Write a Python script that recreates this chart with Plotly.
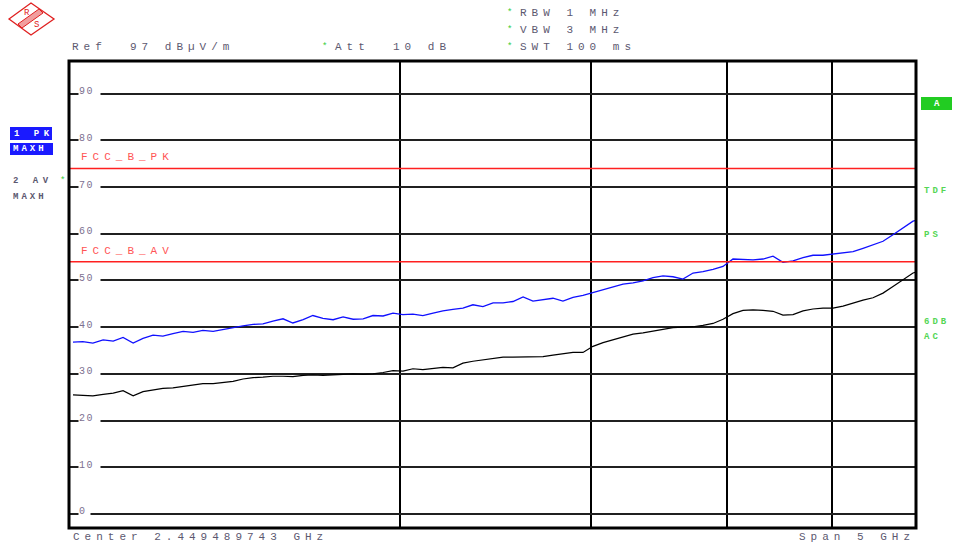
import plotly.graph_objects as go
import json
import math

# ---------------- data ----------------
freq_mhz = [1000, 1021, 1043, 1066, 1089, 1112, 1136, 1160, 1185, 1210,
            1236, 1263, 1290, 1317, 1346, 1374, 1404, 1434, 1465, 1496,
            1528, 1561, 1594, 1629, 1663, 1699, 1736, 1773, 1811, 1850,
            1889, 1930, 1971, 2013, 2056, 2100, 2146, 2191, 2238, 2286,
            2335, 2385, 2437, 2489, 2542, 2597, 2652, 2709, 2767, 2826,
            2887, 2949, 3012, 3077, 3143, 3210, 3279, 3349, 3421, 3494,
            3569, 3645, 3724, 3803, 3885, 3968, 4053, 4140, 4229, 4319,
            4412, 4506, 4603, 4702, 4802, 4905, 5010, 5118, 5228, 5340,
            5454, 5571, 5690, 5812, 5937, 6000]

pk_maxh = [36.8, 36.9, 36.6, 37.3, 37.0, 37.8, 36.6, 37.6, 38.3, 38.1,
           38.6, 39.1, 38.9, 39.3, 39.1, 39.5, 40.0, 40.3, 40.6, 40.7,
           41.3, 41.8, 40.9, 41.6, 42.5, 41.9, 41.6, 42.2, 41.7, 41.8,
           42.5, 42.4, 43.0, 42.7, 42.8, 42.5, 43.0, 43.5, 43.8, 44.1,
           44.8, 44.4, 45.2, 45.2, 45.5, 46.5, 45.6, 45.9, 46.2, 45.6,
           46.4, 46.8, 47.4, 47.9, 48.6, 49.2, 49.5, 49.9, 50.6, 51.0,
           50.8, 50.3, 51.6, 51.9, 52.4, 53.0, 54.6, 54.5, 54.4, 54.6,
           55.2, 53.9, 54.2, 54.9, 55.4, 55.4, 55.7, 56.0, 56.2, 56.9,
           57.6, 58.4, 59.8, 61.2, 62.7, 63.0]

av_maxh = [25.5, 25.4, 25.3, 25.6, 25.9, 26.4, 25.3, 26.2, 26.6, 26.9,
           27.0, 27.3, 27.6, 27.9, 27.9, 28.1, 28.4, 28.9, 29.2, 29.3,
           29.5, 29.5, 29.4, 29.7, 29.8, 29.7, 29.8, 30.0, 30.0, 29.9,
           30.0, 30.3, 30.7, 30.6, 31.1, 30.9, 31.2, 31.4, 31.3, 32.3,
           32.7, 33.0, 33.2, 33.6, 33.6, 33.6, 33.6, 33.7, 34.0, 34.3,
           34.6, 34.6, 35.9, 36.7, 37.3, 37.9, 38.5, 38.8, 39.2, 39.5,
           39.9, 40.0, 40.1, 40.4, 40.8, 41.7, 42.9, 43.6, 43.7, 43.6,
           43.4, 42.6, 42.7, 43.5, 43.9, 44.1, 44.1, 44.5, 45.2, 45.8,
           46.3, 47.3, 48.7, 50.2, 51.6, 51.9]

limit_names = ["FCC_B_PK", "FCC_B_AV"]
limit_values = [74, 54]

y_ticks = [0, 10, 20, 30, 40, 50, 60, 70, 80, 90]
x_grid_ghz = [2, 3, 4, 5]
ref_level = 97
start_ghz, stop_ghz = 1, 6

freq_ghz = [f / 1000 for f in freq_mhz]

# ---------------- layout helpers ----------------
W, H = 953, 549
L, R, T, B = 69, 916, 61, 528
def px(x):
    return (x - L) / (R - L)
def py(y):
    return (B - y) / (B - T)

span_log = math.log10(stop_ghz) - math.log10(start_ghz)
pix_per = 845.0
xr = [math.log10(start_ghz) - 4 / pix_per * span_log,
      math.log10(stop_ghz) - 2 / pix_per * span_log]

fig = go.Figure()
fig.add_trace(go.Scatter(x=freq_ghz, y=av_maxh, mode="lines",
                         line=dict(color="#000000", width=1.2), name="2 AV"))
fig.add_trace(go.Scatter(x=freq_ghz, y=pk_maxh, mode="lines",
                         line=dict(color="#1010ff", width=1.3), name="1 PK"))

shapes = []
annotations = []
spacing = []

GRAY = "#5c5870"
TICKC = "#7c7090"
GREEN = "#33cc33"
LGREEN = "#55d655"
RED_TXT = "#ff5555"
MONO = "Liberation Mono"

def txt(t, x, y, color=GRAY, size=11, ls=5, bold=False, **kw):
    s = "<b>%s</b>" % t if bold else t
    d = dict(text=s, x=px(x), y=py(y), xref="paper", yref="paper",
             xanchor="left", yanchor="middle", align="left", showarrow=False,
             font=dict(family=MONO, size=size, color=color))
    d.update(kw)
    annotations.append(d)
    spacing.append(ls)

# limit lines
for name, v in zip(limit_names, limit_values):
    shapes.append(dict(type="line", xref="paper", yref="y", x0=0, x1=1, y0=v, y1=v,
                       line=dict(color="#ff2020", width=1.5), layer="above"))
    annotations.append(dict(text=name, x=px(79), y=v, xref="paper", yref="y",
                            xanchor="left", yanchor="middle", align="left", yshift=11,
                            showarrow=False, font=dict(family=MONO, size=11, color=RED_TXT)))
    spacing.append(5)

# y tick labels inside the grid with white background
for v in y_ticks:
    lab = str(v)
    annotations.append(dict(text=lab, x=px(78), y=v, xref="paper", yref="y",
                            xanchor="left", yanchor="middle", align="left", yshift=2,
                            width=10 * len(lab) + 1, height=9, borderpad=0,
                            bgcolor="white", showarrow=False,
                            font=dict(family=MONO, size=10, color=TICKC)))
    spacing.append(1.5)

# header
txt("Ref\u00a0\u00a0%d\u00a0dBµV/m" % ref_level, 70, 47)
txt("*", 320, 47, color=GREEN, size=9, ls=0)
txt("Att\u00a0\u00a010\u00a0dB", 333, 47)
for t, y in [("RBW\u00a01\u00a0MHz", 13), ("VBW\u00a03\u00a0MHz", 30), ("SWT\u00a0100\u00a0ms", 47)]:
    txt("*", 505, y, color=GREEN, size=9, ls=0)
    txt(t, 518, y)

# footer
txt("Center\u00a02.449489743\u00a0GHz", 71, 537)
txt("Span\u00a05\u00a0GHz", 797, 537)

# left trace labels
shapes.append(dict(type="rect", xref="paper", yref="paper", x0=px(10), x1=px(52),
                   y0=py(140), y1=py(127), fillcolor="#1a1aff", line=dict(width=0)))
shapes.append(dict(type="rect", xref="paper", yref="paper", x0=px(10), x1=px(53),
                   y0=py(155), y1=py(143), fillcolor="#1a1aff", line=dict(width=0)))
txt("1\u00a0PK", 12, 134, color="white", size=9, ls=4.5, bold=True)
txt("MAXH", 11, 149, color="white", size=9, ls=3, bold=True)
txt("2\u00a0AV", 11, 181, color=GRAY, size=9, ls=4.5, bold=True)
txt("*", 58, 181, color=GREEN, size=9, ls=0)
txt("MAXH", 11, 197, color=GRAY, size=9, ls=3, bold=True)

# right side labels
shapes.append(dict(type="rect", xref="paper", yref="paper", x0=px(921), x1=px(952),
                   y0=py(110), y1=py(97), fillcolor="#22cc22", line=dict(width=0)))
txt("A", 932, 104, color="white", size=9, ls=0, bold=True)
for t, y in [("TDF", 191), ("PS", 235), ("6DB", 322), ("AC", 337)]:
    txt(t, 922, y, color=LGREEN, size=9, ls=3, bold=True)

# R&S logo
def pp(x, y):
    return "%.5f,%.5f" % (px(x), py(y))
shapes.append(dict(type="path", xref="paper", yref="paper",
                   path="M %s L %s L %s L %s Z" % (pp(9, 19), pp(31, 3), pp(54, 19), pp(31, 35)),
                   line=dict(color="#e02020", width=1.3), fillcolor="rgba(0,0,0,0)"))
shapes.append(dict(type="path", xref="paper", yref="paper",
                   path="M %s L %s L %s L %s Z" % (pp(39, 9), pp(43, 13), pp(22, 28), pp(18, 24)),
                   line=dict(color="#e02020", width=1), fillcolor="rgba(230,80,80,0.55)"))
txt("R", 22, 13, color="#e02020", size=9, ls=0)
txt("S", 32, 25, color="#e02020", size=9, ls=0)

# frame
shapes.append(dict(type="rect", xref="paper", yref="paper", x0=0, x1=1, y0=0, y1=1,
                   line=dict(color="#000000", width=3), layer="above"))

fig.update_layout(
    width=W, height=H,
    margin=dict(l=L, r=W - R, t=T, b=H - B, pad=0),
    paper_bgcolor="white", plot_bgcolor="white",
    showlegend=False,
    shapes=shapes, annotations=annotations,
    xaxis=dict(type="log", range=xr, tickvals=x_grid_ghz, showticklabels=False,
               ticks="", showgrid=True, gridcolor="#000000", gridwidth=2,
               zeroline=False, showline=False, fixedrange=True),
    yaxis=dict(range=[ref_level - 100, ref_level], tickvals=y_ticks, showticklabels=False,
               ticks="", showgrid=True, gridcolor="#202020", gridwidth=1.5,
               zeroline=False, showline=False, fixedrange=True),
)

post = """
document.body.style.margin = '0';
document.body.style.padding = '0';
document.documentElement.style.overflow = 'hidden';
var gd = document.getElementById('{plot_id}');
var sp = %s;
gd.querySelectorAll('g.annotation').forEach(function(g){
  var i = parseInt(g.getAttribute('data-index'));
  var t = g.querySelector('text.annotation-text');
  if (t && sp[i]) { t.style.letterSpacing = sp[i] + 'px'; }
});
""" % json.dumps(spacing)

fig.write_html("out.html", post_script=post, config={"displayModeBar": False})
